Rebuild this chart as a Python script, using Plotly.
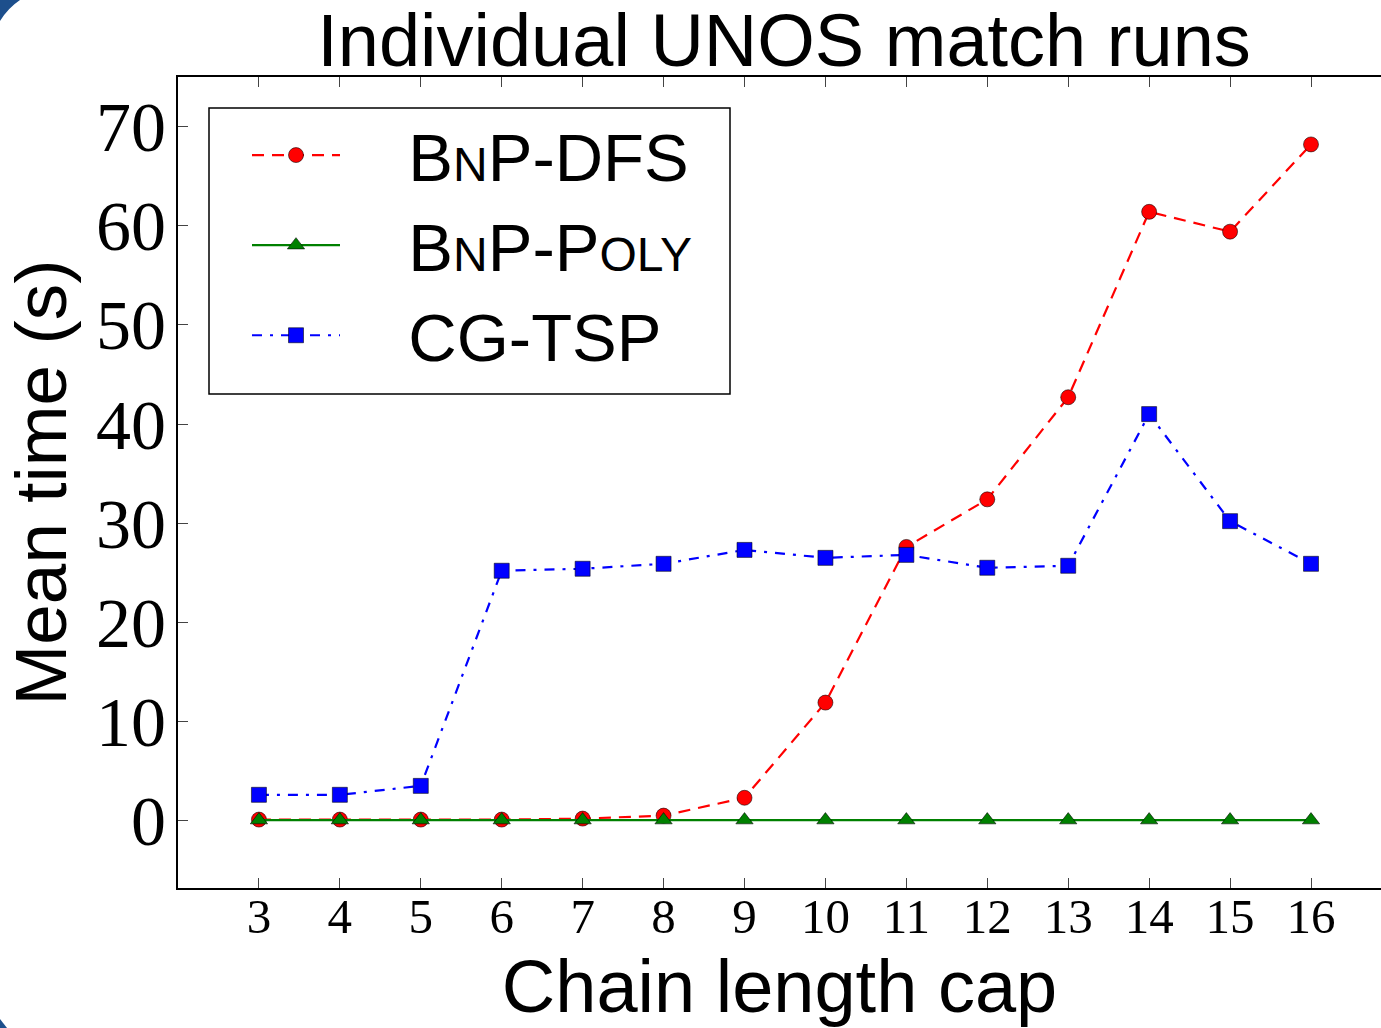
import plotly.graph_objects as go

chain_cap = [3, 4, 5, 6, 7, 8, 9, 10, 11, 12, 13, 14, 15, 16]
bnp_dfs = [0.1, 0.1, 0.1, 0.1, 0.2, 0.5, 2.3, 11.9, 27.6, 32.4, 42.7, 61.4, 59.4, 68.2]
bnp_poly = [0.05, 0.05, 0.05, 0.05, 0.05, 0.05, 0.05, 0.05, 0.05, 0.05, 0.05, 0.05, 0.05, 0.05]
cg_tsp = [2.6, 2.6, 3.5, 25.2, 25.4, 25.9, 27.3, 26.5, 26.8, 25.5, 25.7, 41.0, 30.2, 25.9]

x_ticks = list(range(3, 17))
y_ticks = [0, 10, 20, 30, 40, 50, 60, 70]

SM = "<span style='font-size:48px'>"
PAD = "<span style='font-size:57px'>&nbsp;&nbsp;&nbsp;&nbsp;</span>"
names = [
    PAD + "B" + SM + "N</span>P-DFS",
    PAD + "B" + SM + "N</span>P-P" + SM + "OLY</span>",
    PAD + "CG-TSP",
]

W, H = 1381, 1028
L, T, B = 178, 77, 140
PW, PH = W - L, H - B - T


def px_x(p):
    return (p - L) / PW


def px_y(p):
    return (H - B - p) / PH


fig = go.Figure()
edge = dict(color="rgba(0,0,0,0.55)", width=1)
fig.add_trace(go.Scatter(
    x=chain_cap, y=bnp_dfs, name=names[0], mode="lines+markers",
    line=dict(color="#ff0000", width=2.2, dash="12px,8px"),
    marker=dict(symbol="circle", size=15, color="#ff0000", line=edge),
))
fig.add_trace(go.Scatter(
    x=chain_cap, y=bnp_poly, name=names[1], mode="lines+markers",
    line=dict(color="#008000", width=2.2),
    marker=dict(symbol="triangle-up", size=15, color="#008000", line=edge),
))
fig.add_trace(go.Scatter(
    x=chain_cap, y=cg_tsp, name=names[2], mode="lines+markers",
    line=dict(color="#0000ff", width=2.2, dash="10px,8px,3px,8px"),
    marker=dict(symbol="square", size=15, color="#0000ff", line=edge),
))

corner = "#1d4f8c"
fig.update_layout(
    width=W, height=H,
    margin=dict(l=L, r=0, t=T, b=B, pad=0),
    paper_bgcolor="white", plot_bgcolor="white",
    showlegend=True,
    title=dict(
        text="Individual UNOS match runs",
        font=dict(family="Liberation Sans", size=74, color="black"),
        x=784 / W, xanchor="center", xref="container",
        y=1 - 40 / H, yanchor="middle", yref="container",
    ),
    legend=dict(
        x=px_x(247), xanchor="left",
        y=px_y(105), yanchor="top",
        bgcolor="rgba(0,0,0,0)", borderwidth=0,
        font=dict(family="Liberation Sans", size=67, color="black"),
        itemwidth=88, tracegroupgap=0,
    ),
    xaxis=dict(
        range=[2, 16.865], tickmode="array", tickvals=x_ticks,
        ticktext=[str(v) for v in x_ticks],
        ticks="inside", ticklen=10, tickwidth=1, tickcolor="#444",
        showline=True, linecolor="black", linewidth=2, mirror="ticks",
        showgrid=False, zeroline=False,
        tickfont=dict(family="Liberation Serif", size=49, color="black"),
        ticklabelstandoff=-16,
        title=dict(text="Chain length cap",
                   font=dict(family="Liberation Sans", size=74, color="black"),
                   standoff=22),
    ),
    yaxis=dict(
        range=[-6.8, 75], tickmode="array", tickvals=y_ticks,
        ticktext=[str(v) for v in y_ticks],
        ticks="inside", ticklen=10, tickwidth=1, tickcolor="#444",
        showline=True, linecolor="black", linewidth=2,
        showgrid=False, zeroline=False,
        tickfont=dict(family="Liberation Serif", size=70, color="black"),
        ticklabelstandoff=-4,
        title=dict(text="Mean time (s)",
                   font=dict(family="Liberation Sans", size=73, color="black"),
                   standoff=8),
    ),
    shapes=[
        dict(type="rect", xref="paper", yref="paper", layer="below",
             x0=px_x(209), x1=px_x(730), y0=px_y(394), y1=px_y(108),
             fillcolor="white", line=dict(color="black", width=1.5)),
        dict(type="path", xref="paper", yref="paper", layer="above",
             path=f"M {px_x(0)} {px_y(0)} L {px_x(20)} {px_y(0)} "
                  f"Q {px_x(8)} {px_y(8)} {px_x(0)} {px_y(21)} Z",
             fillcolor=corner, line=dict(width=0)),
        dict(type="path", xref="paper", yref="paper", layer="above",
             path=f"M {px_x(0)} {px_y(1028)} L {px_x(7)} {px_y(1028)} "
                  f"L {px_x(0)} {px_y(1019)} Z",
             fillcolor=corner, line=dict(width=0)),
    ],
)

fig.write_html("out.html")
